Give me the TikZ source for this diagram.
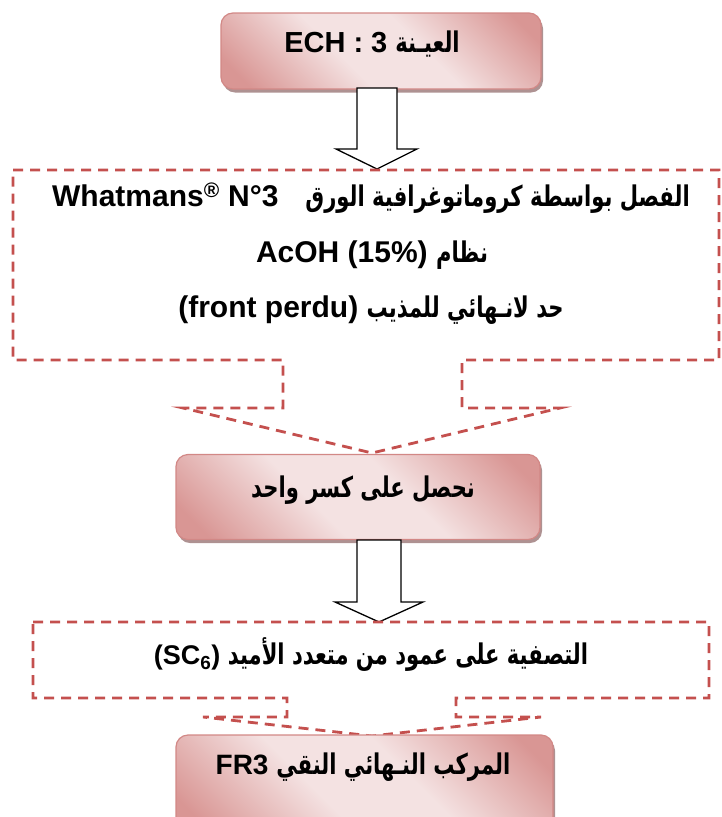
\documentclass[tikz,border=0pt]{standalone}
\usepackage{fontspec}
\setmainfont{Liberation Sans}
\newfontfamily\arabicfont[Script=Arabic, FakeStretch=0.74]{DejaVu Sans}
\TeXXeTstate=1
\usetikzlibrary{calc,shadows}

\definecolor{boxdark}{HTML}{D99694}
\definecolor{boxlight}{HTML}{F4E2E2}
\definecolor{boxedge}{HTML}{D28886}
\definecolor{shadowtone}{HTML}{AE9292}
\definecolor{dashred}{HTML}{C4504E}

% diagonal pink band: dark corners, light middle
\pgfdeclareverticalshading{pinkband}{100bp}{%
  color(0bp)=(boxdark); color(20bp)=(boxdark); color(42bp)=(boxlight);
  color(58bp)=(boxlight); color(80bp)=(boxdark); color(100bp)=(boxdark)}

\newcommand{\AR}[1]{{\arabicfont\fontsize{28.5}{32}\selectfont #1}}

\begin{document}
\begin{tikzpicture}[x=1pt,y=-1pt,
  stagebox/.style={draw=boxedge, line width=1.2pt, rounded corners=12pt,
    shading=pinkband, shading angle=-45,
    drop shadow={shadow xshift=2pt, shadow yshift=-3.5pt, fill=shadowtone, opacity=1},
    inner sep=0pt},
  label/.style={font=\bfseries\fontsize{28}{32}\selectfont, inner sep=0pt},
  biglabel/.style={font=\bfseries\fontsize{30}{34}\selectfont, inner sep=0pt},
  callout/.style={draw=dashred, line width=2.8pt, dash pattern=on 10pt off 7pt},
  blockarrow/.style={draw=black, fill=white, line width=1.3pt, line join=miter}
]
\clip (0,0) rectangle (722,817);

% sample box
\node[stagebox, minimum width=320pt, minimum height=76pt] (ech) at (381,51) {};
\node[label, font=\bfseries\fontsize{29}{32}\selectfont] (echtext) at (372,44)
  {\beginR\AR{العيـنة} \beginL ECH : 3\endL\endR};

% open arrow towards the separation step
\draw[blockarrow] (357,88) -- (357,149) -- (336,149) -- (377,169)
  -- (417,149) -- (397,149) -- (397,88) -- cycle;

% dashed callout: paper chromatography
\draw[callout] (13,170) -- (719,170) -- (719,360) -- (462,360) -- (462,408)
  -- (560,408) -- (372,453) -- (183,408) -- (283,408) -- (283,360)
  -- (13,360) -- cycle;
\node[biglabel] (sepone) at (371,198)
  {\beginR\AR{الفصل بواسطة كروماتوغرافية الورق}\hspace{0.9em}\beginL Whatmans\textsuperscript{®} N°3\endL\endR};
\node[biglabel] (septwo) at (372,255)
  {\beginR\AR{نظام} \beginL AcOH (15\%)\endL\endR};
\node[biglabel] (septhree) at (371,310)
  {\beginR\AR{حد لانـهائي للمذيب} \beginL(front perdu)\endL\endR};

% single fraction
\node[stagebox, minimum width=364pt, minimum height=85pt] (frac) at (358,497) {};
\node[label] (fractext) at (363,490) {\beginR\AR{نحصل على كسر واحد}\endR};

% open arrow towards the purification step
\draw[blockarrow] (357,540) -- (357,602) -- (335,602) -- (379,622)
  -- (423,602) -- (401,602) -- (401,540) -- cycle;

% dashed callout: polyamide column
\draw[callout] (33,622) -- (709,622) -- (709,698) -- (456,698) -- (456,717)
  -- (541,717) -- (372,736) -- (203,717) -- (287,717) -- (287,698)
  -- (33,698) -- cycle;
\node[label, font=\bfseries\fontsize{27}{30}\selectfont] (purif) at (371,655)
  {\beginR\AR{التصفية على عمود من متعدد الأميد} \beginL(SC\textsubscript{6})\endL\endR};

% final compound
\node[stagebox, minimum width=377pt, minimum height=100pt] (fr) at (364.5,785) {};
\node[label] (frtext) at (363,767) {\beginR\AR{المركب النـهائي النقي} \beginL FR3\endL\endR};
\end{tikzpicture}
\end{document}
